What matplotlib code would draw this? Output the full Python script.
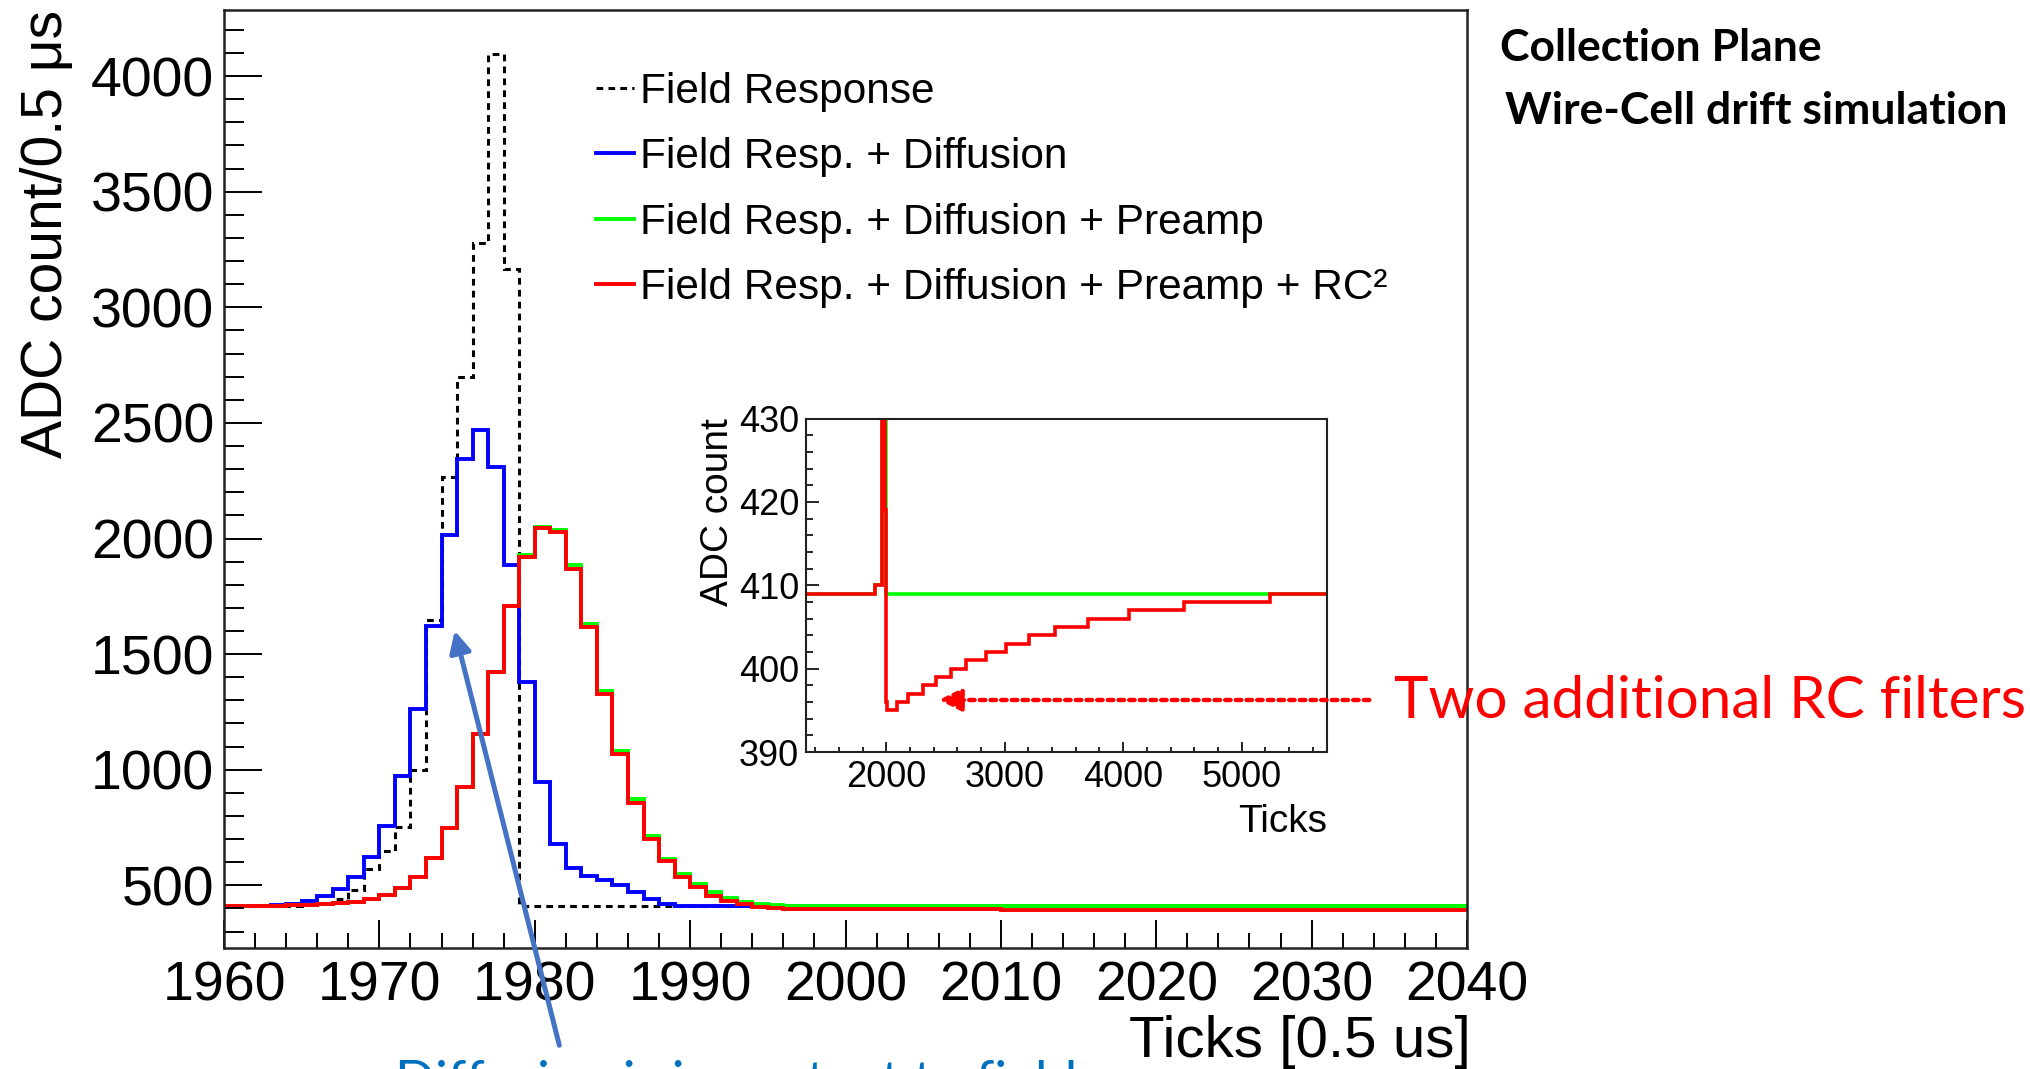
import numpy as np
import matplotlib
matplotlib.use("Agg")
import matplotlib.pyplot as plt
from matplotlib.lines import Line2D
from matplotlib.patches import FancyArrowPatch

plt.rcParams['font.family'] = ['Liberation Sans', 'DejaVu Sans']

# main histogram, one bin per tick from 1960 to 2039
tick_edges = np.arange(1960, 2041)

field_resp = [409, 409, 409, 410, 411, 414, 424, 440, 480, 570,
              650, 752, 1000, 1647, 2268, 2700, 3277, 4096, 3165] + [409] * 61

field_diff = [410, 411, 412, 414, 421, 431, 452, 484, 536, 622,
              758, 971, 1262, 1622, 2015, 2342, 2469, 2310, 1885, 1379,
              947, 680, 575, 540, 524, 503, 470, 440, 420, 412] + [409] * 50

field_diff_preamp = [410, 410, 410, 411, 413, 416, 419, 423, 430, 442,
                     460, 490, 538, 620, 746, 925, 1156, 1424, 1707,
                     1930, 2052, 2035, 1885, 1632, 1342, 1082, 872, 714, 616,
                     550, 505, 470, 446, 430, 420, 414, 411, 410, 410] + [409] * 41

field_diff_preamp_rc = [410, 410, 410, 411, 413, 416, 419, 423, 430, 442,
                        460, 490, 538, 620, 746, 925, 1156, 1424, 1707, 1922,
                        2046, 2027, 1870, 1617, 1327, 1066, 858, 702, 605, 538,
                        493, 456, 434, 419, 408, 402, 399, 397, 396, 396] + [396] * 10 + [395] * 30

# inset: long time range, before and after the window above
pre_edges = [1323, 1908]
pre_levels = [409, 410]
post_edges = [2040, 2091, 2183, 2311, 2421, 2549, 2677, 2842, 3007, 3209,
              3428, 3703, 4051, 4509, 5242, 5720]
post_rc = [395, 396, 397, 398, 399, 400, 401, 402, 403, 404, 405, 406, 407, 408, 409]
post_preamp = [409] * 15

labels = ["Field Response", "Field Resp. + Diffusion",
          "Field Resp. + Diffusion + Preamp",
          "Field Resp. + Diffusion + Preamp + RC\u00b2"]

W, H = 2031, 1069
fig = plt.figure(figsize=(W / 100, H / 100), dpi=100)

ax = fig.add_axes([224 / W, 1 - 948 / H, (1467 - 224) / W, (948 - 10) / H])
dash = (0, (2.2, 1.7))
ax.stairs(field_resp, tick_edges, color="black", lw=2.2, linestyle=dash, baseline=None)
ax.stairs(field_diff, tick_edges, color="#0000ff", lw=2.8, baseline=None)
ax.stairs(field_diff_preamp, tick_edges, color="#00ff00", lw=2.8, baseline=None)
ax.stairs(field_diff_preamp_rc, tick_edges, color="#ff0000", lw=2.8, baseline=None)

ax.set_xlim(1960, 2040)
ax.set_ylim(229, 4286)
ax.set_xticks(np.arange(1960, 2041, 10))
ax.set_xticks(np.arange(1960, 2041, 2), minor=True)
ax.set_yticks(np.arange(500, 4001, 500))
ax.set_yticks(np.arange(300, 4300, 100), minor=True)
ax.tick_params(axis="both", which="both", direction="in", width=1.4, labelsize=40,
               top=False, right=False)
ax.tick_params(axis="x", which="major", length=20, pad=9)
ax.tick_params(axis="x", which="minor", length=11)
ax.tick_params(axis="y", which="major", length=27, pad=7)
ax.tick_params(axis="y", which="minor", length=14.5)
for s in ax.spines.values():
    s.set_linewidth(1.8)
    s.set_color("#222222")

ax.set_ylabel("ADC count/0.5 \u03bcs", fontsize=41, loc="top")
ax.yaxis.set_label_coords(-0.121, 1.0)
ax.set_xlabel("Ticks [0.5 us]", fontsize=42, loc="right")
ax.xaxis.set_label_coords(1.003, -0.071)

handles = [Line2D([], [], color="black", lw=2.2, linestyle=dash),
           Line2D([], [], color="#0000ff", lw=2.8),
           Line2D([], [], color="#00ff00", lw=2.8),
           Line2D([], [], color="#ff0000", lw=2.8)]
ax.legend(handles, labels, loc="upper left", bbox_to_anchor=(0.299, 0.934),
          frameon=False, fontsize=30.5, handlelength=0.9, handletextpad=0.15,
          labelspacing=0.6, borderaxespad=0, borderpad=0)

# inset
axi = fig.add_axes([806 / W, 1 - 752 / H, (1327 - 806) / W, (752 - 418.5) / H])
edges_in = np.concatenate([pre_edges, tick_edges, post_edges[1:]])
axi.stairs(pre_levels + field_diff_preamp + post_preamp, edges_in,
           color="#00ff00", lw=2.6, baseline=None)
axi.stairs(pre_levels + field_diff_preamp_rc + post_rc, edges_in,
           color="#ff0000", lw=2.6, baseline=None)
axi.set_xlim(1323, 5720)
axi.set_ylim(390, 430)
axi.set_xticks([2000, 3000, 4000, 5000])
axi.set_xticks(np.arange(1400, 5720, 200), minor=True)
axi.set_yticks(np.arange(390, 431, 10))
axi.set_yticks(np.arange(390, 431, 2), minor=True)
axi.tick_params(axis="both", which="both", direction="in", width=1.2, labelsize=26,
                top=False, right=False)
axi.tick_params(axis="x", which="major", length=7.2, pad=6)
axi.tick_params(axis="x", which="minor", length=3.6)
axi.tick_params(axis="y", which="major", length=9.4, pad=5)
axi.tick_params(axis="y", which="minor", length=4.7)
for s in axi.spines.values():
    s.set_linewidth(1.5)
    s.set_color("#222222")
axi.set_ylabel("ADC count", fontsize=28, loc="top")
axi.yaxis.set_label_coords(-0.134, 1.0)
axi.set_xlabel("Ticks", fontsize=28, loc="right")
axi.xaxis.set_label_coords(1.0, -0.155)

# slide annotations
fig.text(1500 / W, 1 - 48 / H, "Collection Plane", family="Lato", fontweight="bold",
         fontsize=32, va="center", ha="left")
fig.text(1505 / W, 1 - 111 / H, "Wire-Cell drift simulation", family="Lato",
         fontweight="bold", fontsize=32, va="center", ha="left")
fig.text(1394 / W, 1 - 701 / H, "Two additional RC filters", family="Lato",
         color="#ff0000", fontsize=42, va="center", ha="left")
fig.text(395 / W, 1 - 1060 / H, "Diffusion is important to field", family="Lato",
         color="#0070c0", fontsize=38, va="top", ha="left")

red_arrow = FancyArrowPatch((1372, H - 700), (936, H - 700), transform=None,
                            arrowstyle="-|>", color="#ff0000", lw=3.2,
                            linestyle=(0, (1.2, 1.2)), mutation_scale=34, zorder=10)
fig.add_artist(red_arrow)
blue_arrow = FancyArrowPatch((560, H - 1048), (454, H - 628), transform=None,
                             arrowstyle="-|>", color="#4472c4", lw=3.6,
                             mutation_scale=32, zorder=10)
fig.add_artist(blue_arrow)

fig.savefig("out.png", dpi=100)
